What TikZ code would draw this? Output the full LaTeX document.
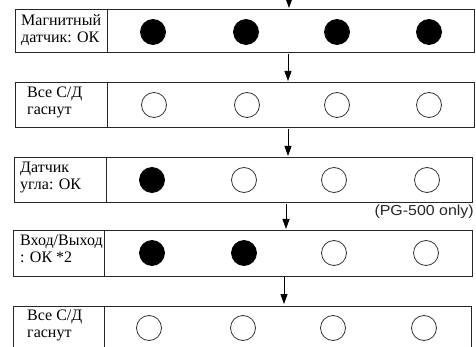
\documentclass[tikz,border=0pt]{standalone}
\usepackage{fontspec}
\usepackage{graphicx}
\setmainfont{Liberation Serif}
\newfontfamily\labelsans{Liberation Sans}
\usetikzlibrary{arrows.meta}
\tikzset{
  rowbox/.style={draw=black!85, line width=1pt},
  lbl/.style={anchor=north west, inner sep=0pt, align=left, font=\fontsize{16}{17}\selectfont},
  ledon/.style={circle, fill=black, draw=black, line width=0.8pt, minimum size=25pt, inner sep=0pt},
  ledoff/.style={circle, fill=white, draw=black!80, line width=0.8pt, minimum size=25pt, inner sep=0pt},
  flow/.style={draw=black, line width=0.9pt, -{Triangle[width=7pt,length=10pt]}},
}
\begin{document}
\begin{tikzpicture}[x=1pt, y=-1pt]
\useasboundingbox (0,0) rectangle (476,347);
\clip (0,0) rectangle (476,347);
% row boxes
\draw[rowbox] (15,10) rectangle (474,53);  \draw[rowbox] (107,10) -- (107,53);
\draw[rowbox] (15,83) rectangle (474,128); \draw[rowbox] (107,83) -- (107,128);
\draw[rowbox] (14,158) rectangle (472,203); \draw[rowbox] (106,158) -- (106,203);
\draw[rowbox] (13,231) rectangle (472,276); \draw[rowbox] (104,231) -- (104,276);
\draw[rowbox] (13,306) rectangle (471,360); \draw[rowbox] (104,306) -- (104,360);
% labels
\node[lbl] (t1) at (21,14) {Магнитный\\датчик: ОК};
\node[lbl] (t2) at (27,87) {Все С/Д\\гаснут};
\node[lbl] (t3) at (20,162) {Датчик\\угла: ОК};
\node[lbl] (t4) at (20,235) {Вход/Выход\\: ОК *2};
\node[lbl] (t5) at (27,310) {Все С/Д\\гаснут};
% LEDs
\node[ledon]  (a1) at (153,32) {};
\node[ledon]  (a2) at (246,32) {};
\node[ledon]  (a3) at (337,32) {};
\node[ledon]  (a4) at (429,32) {};
\node[ledoff] (b1) at (154,105) {};
\node[ledoff] (b2) at (247,105) {};
\node[ledoff] (b3) at (337,105) {};
\node[ledoff] (b4) at (429,105) {};
\node[ledon]  (c1) at (152,180) {};
\node[ledoff] (c2) at (244,180) {};
\node[ledoff] (c3) at (334,180) {};
\node[ledoff] (c4) at (427,180) {};
\node[ledon]  (d1) at (152,253) {};
\node[ledon]  (d2) at (244,253) {};
\node[ledoff] (d3) at (334,253) {};
\node[ledoff] (d4) at (426,253) {};
\node[ledoff] (e1) at (149,328) {};
\node[ledoff] (e2) at (243,328) {};
\node[ledoff] (e3) at (333,328) {};
\node[ledoff] (e4) at (424,328) {};
% note
\node[anchor=east, inner sep=0pt, text=black!85, font=\labelsans\fontsize{14.5}{15}\selectfont] (note) at (474,212) {\scalebox{1.1}[1]{(PG-500 only)}};
% arrows
\coordinate (fs0) at (289,-6); \coordinate (fe0) at (289,8);
\coordinate (fs1) at (288,54); \coordinate (fe1) at (288,81);
\coordinate (fs2) at (288,129); \coordinate (fe2) at (288,156);
\coordinate (fs3) at (286,204); \coordinate (fe3) at (286,229);
\coordinate (fs4) at (284,277); \coordinate (fe4) at (284,304);
\draw[flow] (fs0) -- (fe0);
\draw[flow] (fs1) -- (fe1);
\draw[flow] (fs2) -- (fe2);
\draw[flow] (fs3) -- (fe3);
\draw[flow] (fs4) -- (fe4);
\end{tikzpicture}
\end{document}
